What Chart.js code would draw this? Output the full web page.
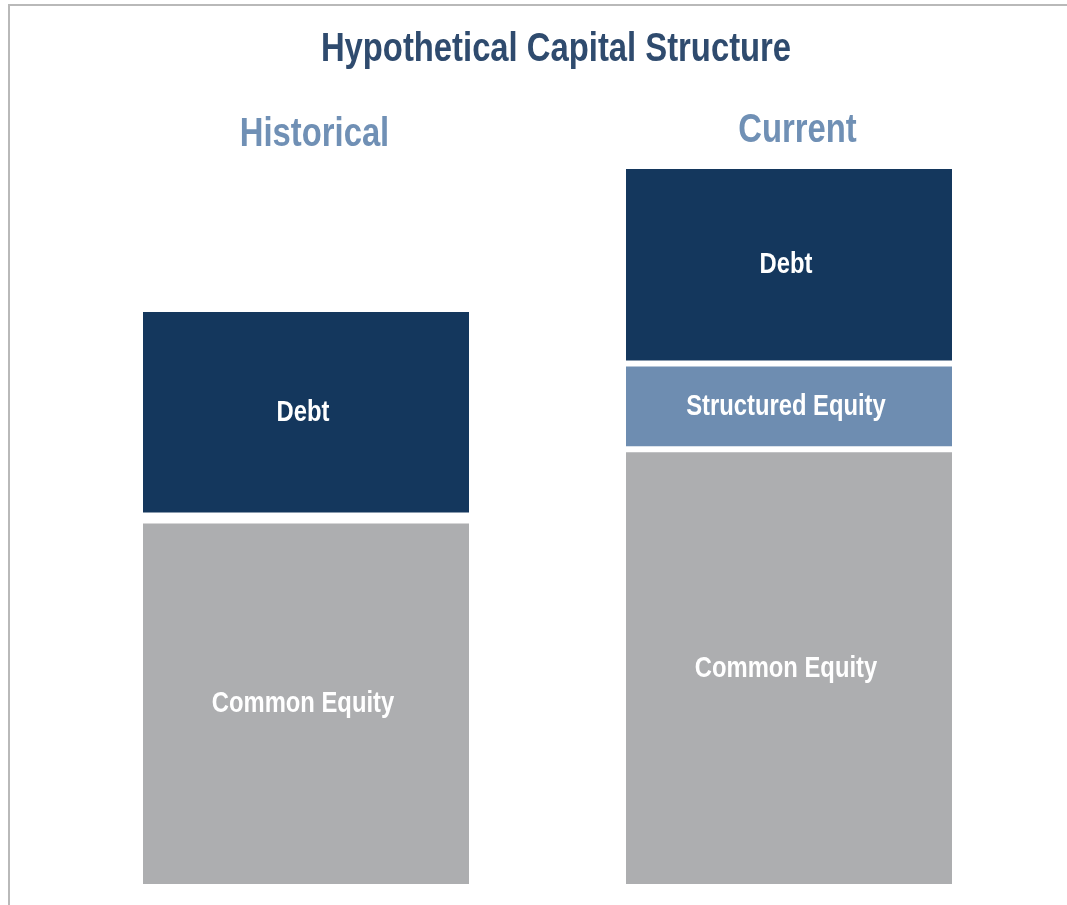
<!DOCTYPE html>
<html>
<head>
<meta charset="utf-8">
<script src="https://cdn.jsdelivr.net/npm/chart.js@4.4.1/dist/chart.umd.min.js"></script>
<style>
  html, body { margin: 0; padding: 0; background: #ffffff; }
  #wrap { position: relative; width: 1067px; height: 905px; overflow: hidden; }
  #frame { position: absolute; left: 8px; top: 4px; width: 1067px; height: 905px;
           border-top: 2px solid #b9b9b9; border-left: 2px solid #b9b9b9; box-sizing: border-box; }
  canvas { position: absolute; left: 0; top: 0; }
</style>
</head>
<body>
<div id="wrap">
  <div id="frame"></div>
  <canvas id="chart" width="1067" height="905"></canvas>
</div>
<script>
// ---- data ----
const categories = ['Historical', 'Current'];
const seriesNames = ['Common Equity', 'Structured Equity', 'Debt'];
const commonEquity = [64, 76];
const structuredEquity = [null, 15];
const debt = [36, 34];
const chartTitle = 'Hypothetical Capital Structure';

// ---- styles ----
const FONT = "'Liberation Sans', Arial, sans-serif";
const NARROW = 0.82;               // horizontal condense (Arial Narrow look)
const colors = { common: '#adaeb0', structured: '#6e8db1', debt: '#14375d' };
const halfGap = [5.5, 3];          // white separation between stacked segments
const catLabelBaseline = [146, 142];
const catLabelDx = 8.5;

function narrowText(ctx, text, x, y, font, color) {
  ctx.save();
  ctx.font = font;
  ctx.fillStyle = color;
  ctx.textAlign = 'center';
  ctx.textBaseline = 'alphabetic';
  ctx.translate(x, y);
  ctx.scale(NARROW, 1);
  ctx.fillText(text, 0, 0);
  ctx.restore();
}

const textLayer = {
  id: 'textLayer',
  afterDatasetsDraw(chart) {
    const ctx = chart.ctx;
    // title
    narrowText(ctx, chartTitle, 556, 61, 'bold 40px ' + FONT, '#2f4b6e');
    // category labels, positioned with the x scale
    const xs = chart.scales.x;
    categories.forEach((c, i) => {
      narrowText(ctx, c, xs.getPixelForValue(i) + catLabelDx, catLabelBaseline[i], 'bold 40px ' + FONT, '#7090b5');
    });
    // segment labels
    const size = 29;
    chart.data.datasets.forEach((ds, di) => {
      const meta = chart.getDatasetMeta(di);
      meta.data.forEach((el, i) => {
        const v = ds.data[i];
        if (v === null || v === undefined) return;
        const p = el.getProps(['x', 'y', 'base'], true);
        const top = Math.min(p.y, p.base);
        const bottom = Math.max(p.y, p.base);
        const bw = el.options.borderWidth || {};
        const cy = ((top + (bw.top || 0)) + (bottom - (bw.bottom || 0))) / 2;
        narrowText(ctx, ds.label, p.x - 3, cy + size * 0.3, 'bold ' + size + 'px ' + FONT, '#ffffff');
      });
    });
  }
};

function bwFor(position) {
  return (c) => {
    const g = halfGap[c.dataIndex];
    if (position === 'bottomSeg') return { top: g, bottom: 0, left: 0, right: 0 };
    if (position === 'midSeg') return { top: g, bottom: g, left: 0, right: 0 };
    return { top: 0, bottom: g, left: 0, right: 0 };
  };
}

new Chart(document.getElementById('chart'), {
  type: 'bar',
  data: {
    labels: categories,
    datasets: [
      { label: seriesNames[0], data: commonEquity, backgroundColor: colors.common,
        borderColor: '#ffffff', borderWidth: bwFor('bottomSeg'), borderSkipped: false },
      { label: seriesNames[1], data: structuredEquity, backgroundColor: colors.structured,
        borderColor: '#ffffff', borderWidth: bwFor('midSeg'), borderSkipped: false },
      { label: seriesNames[2], data: debt, backgroundColor: colors.debt,
        borderColor: '#ffffff', borderWidth: bwFor('topSeg'), borderSkipped: false }
    ]
  },
  options: {
    responsive: false,
    animation: false,
    devicePixelRatio: 1,
    categoryPercentage: 1,
    barPercentage: 0.675,
    layout: { padding: { left: 64.5, right: 36.5, top: 151.8, bottom: 21 } },
    plugins: {
      legend: { display: false },
      tooltip: { enabled: false },
      title: { display: false }
    },
    scales: {
      x: { stacked: true, display: false },
      y: { stacked: true, display: false, min: 0, max: 128 }
    }
  },
  plugins: [textLayer]
});
</script>
</body>
</html>
